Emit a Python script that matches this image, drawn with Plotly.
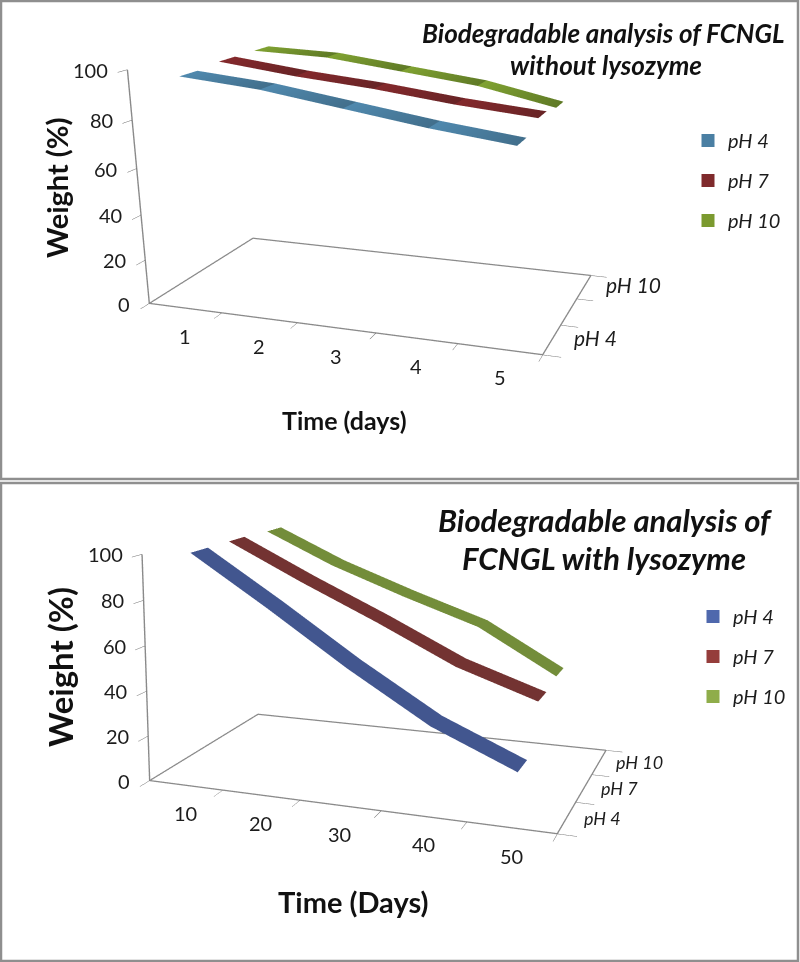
import numpy as np
import plotly.graph_objects as go

# ---- data ----
series_names = ["pH 4", "pH 7", "pH 10"]
days_top = [1, 2, 3, 4, 5]
top_ph4 = [97, 94, 89, 84, 80]
top_ph7 = [98, 94, 91, 87, 84]
top_ph10 = [98, 97, 93, 89, 82]
days_bottom = [10, 20, 30, 40, 50]
bottom_ph4 = [100, 78, 55, 34, 19]
bottom_ph7 = [100, 83, 67, 50, 38]
bottom_ph10 = [101, 85, 72, 60, 40]
weight_ticks = [0, 20, 40, 60, 80, 100]

# ---- view settings ----
VIEW_TOP = [0.9579, -2.7371, 0.6959, -0.2440, 0.9457, -1.3590, 0.6125, 0.5559, -1.4130, 4.2028]
VIEW_BOTTOM = [1.0231, -2.6185, 0.7095, -1.3276, 3.6987, 0.0500, 0.5668, 0.5524, -1.6425, 4.4630]
GREY = "#8a8a8a"
TEXT = "#1c1c1c"
FONT = "Lato"
LIGHT_TOP = ["#5089ae", "#84292c", "#80a232"]
DARK_TOP = ["#426f8c", "#682426", "#5f7a26"]
FLAT_BOTTOM = ["#42568f", "#733332", "#738d3a"]
LEGEND_TOP = ["#4a7fa3", "#7f2a2c", "#7b9a2f"]
LEGEND_BOTTOM = ["#4f68ad", "#953d3b", "#8fad4a"]
HALF_RIBBON = 0.22

fig = go.Figure()


def ribbon(xs, zs, depth, light, dark, scene):
    X, Y, Z, I, J, K, C = [], [], [], [], [], [], []
    for s in range(len(xs) - 1):
        a = len(X)
        X += [xs[s], xs[s], xs[s + 1], xs[s + 1]]
        Y += [depth - HALF_RIBBON, depth + HALF_RIBBON] * 2
        Z += [zs[s], zs[s], zs[s + 1], zs[s + 1]]
        C += [light, light, dark, dark]
        I += [a, a + 1]
        J += [a + 1, a + 3]
        K += [a + 2, a + 2]
    fig.add_trace(go.Mesh3d(x=X, y=Y, z=Z, i=I, j=J, k=K, vertexcolor=C, flatshading=True,
                            lighting=dict(ambient=1, diffuse=0, specular=0, roughness=1, fresnel=0),
                            scene=scene, showlegend=False, hoverinfo="skip"))


def add_panel(scene, legend, xs, series, light, dark, swatch, xr):
    for j, (name, zs) in enumerate(zip(series_names, series)):
        ribbon(xs, zs, j + 0.5, light[j], dark[j], scene)
        fig.add_trace(go.Scatter3d(x=[None], y=[None], z=[None], mode="markers", name=name, scene=scene,
                                   legend=legend, legendgroup=f"{scene}{j}",
                                   marker=dict(symbol="square", size=13, color=swatch[j])))
    eps_x = (xr[1] - xr[0]) * 0.0005
    x0, x1 = xr[0] + eps_x, xr[1] - eps_x
    y0, y1, z0, z1 = 0.002, 2.998, 0.05, 99.95
    fig.add_trace(go.Scatter3d(x=[x0, x0, x0, x1, x1, x0, x0], y=[y0, y0, y0, y0, y1, y1, y0],
                               z=[z1, z0, z0, z0, z0, z0, z0], mode="lines",
                               line=dict(color=GREY, width=2.5), scene=scene,
                               showlegend=False, hoverinfo="skip"))


add_panel("scene", "legend", days_top, [top_ph4, top_ph7, top_ph10], LIGHT_TOP, DARK_TOP, LEGEND_TOP, (0.5, 5.5))
add_panel("scene2", "legend2", days_bottom, [bottom_ph4, bottom_ph7, bottom_ph10], FLAT_BOTTOM, FLAT_BOTTOM,
          LEGEND_BOTTOM, (5, 55))


def axis(rng, ticks):
    return dict(range=rng, tickvals=ticks, ticks="outside", ticklen=14, tickcolor="#6e6e6e", showticklabels=False,
                showgrid=False, zeroline=False, showbackground=False, showline=True, linecolor=GREY,
                linewidth=2, showspikes=False, title=dict(text=""), autorange=False)


def camera(v):
    e, c = np.array(v[:3]), np.array(v[3:6])
    d = c - e
    c2 = e + d / np.linalg.norm(d) * 2
    return dict(eye=dict(x=e[0], y=e[1], z=e[2]), center=dict(x=c2[0], y=c2[1], z=c2[2]),
                up=dict(x=v[8], y=v[9], z=1), projection=dict(type="perspective"))


def labels(xs, xr, ph_names, ph_depths, ph_size, ph_x, ph_y):
    out = []
    for w in weight_ticks:
        out.append(dict(x=xr[0], y=0, z=w, text=str(w), showarrow=False, xanchor="right", xshift=-17,
                        font=dict(size=20, family=FONT, color=TEXT)))
    for t in xs:
        out.append(dict(x=t, y=0, z=0, text=str(t), showarrow=False, yshift=-28,
                        font=dict(size=20, family=FONT, color=TEXT)))
    for n, d in zip(ph_names, ph_depths):
        out.append(dict(x=xr[1], y=d, z=0, text=n, showarrow=False, xanchor="left", xshift=ph_x, yshift=ph_y,
                        font=dict(size=ph_size, family=FONT, color=TEXT, style="italic")))
    return out


def scene_layout(v, xr, xs, ph_names, ph_depths, ph_size, ph_x, ph_y):
    step = xs[1] - xs[0]
    edges = [xs[0] - step / 2 + step * i for i in range(len(xs) + 1)]
    return dict(domain=dict(x=[0, 1], y=[0, 1]), xaxis=axis(list(xr), edges), yaxis=axis([0, 3], [0, 1, 2, 3]),
                zaxis=axis([0, 100], weight_ticks), aspectmode="manual",
                aspectratio=dict(x=1, y=v[6], z=v[7]), camera=camera(v), bgcolor="rgba(0,0,0,0)",
                annotations=labels(xs, xr, ph_names, ph_depths, ph_size, ph_x, ph_y))


def px_x(p):
    return p / 800


def px_y(p):
    return 1 - p / 962


def note(text, x, y, size, italic=False, bold=True, angle=0):
    return dict(text=text, x=px_x(x), y=px_y(y), xref="paper", yref="paper", showarrow=False, textangle=angle,
                xanchor="center", yanchor="middle",
                font=dict(family=FONT, size=size, color="#111", weight=700 if bold else 400,
                          style="italic" if italic else "normal"))


legend_font = dict(size=20, family=FONT, style="italic", color=TEXT)
fig.update_layout(
    width=800, height=962, margin=dict(l=0, r=0, t=0, b=0, pad=0), paper_bgcolor="white",
    scene=scene_layout(VIEW_TOP, (0.5, 5.5), days_top, ["pH 4", "pH 10"], [0.5, 2.5], 21, 20, 2),
    scene2=scene_layout(VIEW_BOTTOM, (5, 55), days_bottom, ["pH 4", "pH 7", "pH 10"], [0.5, 1.5, 2.5], 18, 15, 0),
    legend=dict(x=px_x(688), y=px_y(121), xanchor="left", yanchor="top", font=legend_font,
                bgcolor="rgba(0,0,0,0)", tracegroupgap=11),
    legend2=dict(x=px_x(693), y=px_y(597), xanchor="left", yanchor="top", font=legend_font,
                 bgcolor="rgba(0,0,0,0)", tracegroupgap=11),
    shapes=[dict(type="rect", xref="paper", yref="paper", x0=px_x(1), x1=px_x(798), y0=px_y(479), y1=px_y(1),
                 line=dict(color="#8f8f8f", width=2.5)),
            dict(type="rect", xref="paper", yref="paper", x0=px_x(1), x1=px_x(798), y0=px_y(961), y1=px_y(483),
                 line=dict(color="#8f8f8f", width=2.5))],
    annotations=[
        note("Biodegradable analysis of FCNGL", 603, 33, 26, italic=True),
        note("without lysozyme", 606, 65, 26, italic=True),
        note("Biodegradable analysis of", 605, 520, 31, italic=True),
        note("FCNGL with lysozyme", 604, 558, 31, italic=True),
        note("Weight (%)", 56, 188, 29, angle=-90),
        note("Weight (%)", 60, 667, 33, angle=-90),
        note("Time (days)", 344, 420, 25),
        note("Time (Days)", 353, 901, 29),
    ],
)
fig.write_html("out.html", config=dict(displayModeBar=False),
               post_script="document.body.style.margin='0';document.documentElement.style.overflow='hidden';")
